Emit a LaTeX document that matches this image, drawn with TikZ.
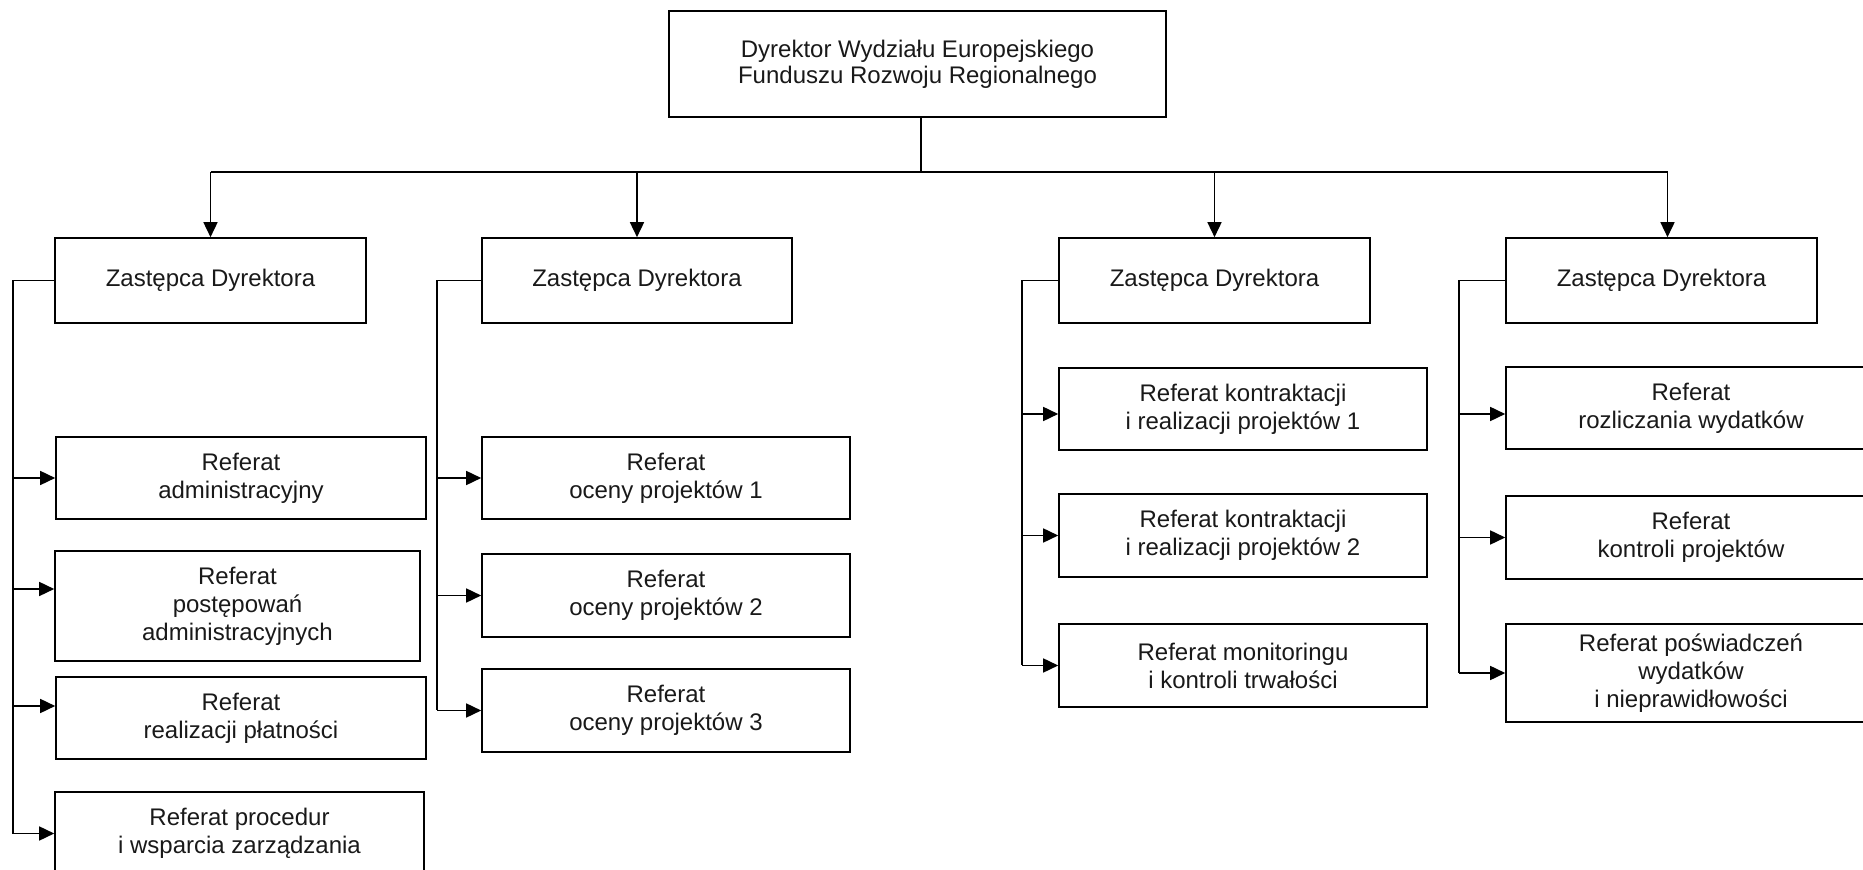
\documentclass[tikz,border=0pt]{standalone}
\usepackage{fontspec}
\setmainfont{Liberation Sans}
\usetikzlibrary{arrows.meta}
\tikzset{
  box/.style={draw=black, line width=0.8pt, inner sep=0pt, align=center,
    font=\fontsize{12}{14}\selectfont, text=black!90},
  conn/.style={draw=black, line width=0.8pt},
  arr/.style={conn, -{Triangle[length=7.5pt,width=7pt]}}
}
\newcommand\mybox[6]{%
  \pgfmathsetmacro\cx{(#2+#4)/2}\pgfmathsetmacro\cy{(#3+#5)/2}%
  \pgfmathsetmacro\ww{(#4-#2)/2}\pgfmathsetmacro\hh{(#5-#3)/2}%
  \node[box,minimum width=\ww pt,minimum height=\hh pt] (#1) at (\cx,\cy) {#6};}
\begin{document}
\begin{tikzpicture}[x=0.5pt,y=-0.5pt]
\useasboundingbox (0,0) rectangle (1863,870);
\clip (0,0) rectangle (1863,870);
% top
\mybox{top}{669}{11}{1166}{117}{Dyrektor Wydziału Europejskiego\\[-1pt]Funduszu Rozwoju Regionalnego}
% deputies
\mybox{z1}{55}{238}{366}{323}{Zastępca Dyrektora}
\mybox{z2}{482}{238}{792}{323}{Zastępca Dyrektora}
\mybox{z3}{1059}{238}{1370}{323}{Zastępca Dyrektora}
\mybox{z4}{1506}{238}{1817}{323}{Zastępca Dyrektora}
% column 1
\mybox{adm}{56}{437}{426}{519}{Referat\\administracyjny}
\mybox{pos}{55}{551}{420}{661}{Referat\\postępowań\\administracyjnych}
\mybox{pla}{56}{677}{426}{759}{Referat\\realizacji płatności}
\mybox{pro}{55}{792}{424}{875}{Referat procedur\\i wsparcia zarządzania}
% column 2
\mybox{oc1}{482}{437}{850}{519}{Referat\\oceny projektów 1}
\mybox{oc2}{482}{554}{850}{637}{Referat\\oceny projektów 2}
\mybox{oc3}{482}{669}{850}{752}{Referat\\oceny projektów 3}
% column 3
\mybox{k1}{1059}{368}{1427}{450}{Referat kontraktacji\\i realizacji projektów 1}
\mybox{k2}{1059}{494}{1427}{577}{Referat kontraktacji\\i realizacji projektów 2}
\mybox{mon}{1059}{624}{1427}{707}{Referat monitoringu\\i kontroli trwałości}
% column 4
\mybox{roz}{1506}{367}{1876}{449}{Referat\\rozliczania wydatków}
\mybox{kon}{1506}{496}{1876}{579}{Referat\\kontroli projektów}
\mybox{pow}{1506}{624}{1876}{722}{Referat poświadczeń\\wydatków\\i nieprawidłowości}
% bus
\coordinate (bus) at (0,172);
\coordinate (topa) at ([xshift=1.75pt]top.south);
\coordinate (z4a) at ([xshift=3pt]z4.north);
\draw[conn] (topa) -- (topa |- bus);
\draw[conn] (z1.north |- bus) -- (z4a |- bus);
\draw[arr] (z1.north |- bus) -- (z1.north);
\draw[arr] (z2.north |- bus) -- (z2.north);
\draw[arr] (z3.north |- bus) -- (z3.north);
\draw[arr] (z4a |- bus) -- (z4a);
% trunk coordinates
\coordinate (t1) at (13,0);
\coordinate (t2) at (437,0);
\coordinate (t3) at (1022,0);
\coordinate (t4) at (1459,0);
\coordinate (posin) at ([yshift=8.5pt]pos.west);
\coordinate (plain) at ([yshift=6pt]pla.west);
\coordinate (k1in) at ([yshift=-2.5pt]k1.west);
\coordinate (rozin) at ([yshift=-3pt]roz.west);
% column 1
\draw[conn] (z1.west) -- (z1.west -| t1) -- (t1 |- pro.west);
\draw[arr] (t1 |- adm.west) -- (adm.west);
\draw[arr] (t1 |- posin) -- (posin);
\draw[arr] (t1 |- plain) -- (plain);
\draw[arr] (t1 |- pro.west) -- (pro.west);
% column 2
\draw[conn] (z2.west) -- (z2.west -| t2) -- (t2 |- oc3.west);
\draw[arr] (t2 |- oc1.west) -- (oc1.west);
\draw[arr] (t2 |- oc2.west) -- (oc2.west);
\draw[arr] (t2 |- oc3.west) -- (oc3.west);
% column 3
\draw[conn] (z3.west) -- (z3.west -| t3) -- (t3 |- mon.west);
\draw[arr] (t3 |- k1in) -- (k1in);
\draw[arr] (t3 |- k2.west) -- (k2.west);
\draw[arr] (t3 |- mon.west) -- (mon.west);
% column 4
\draw[conn] (z4.west) -- (z4.west -| t4) -- (t4 |- pow.west);
\draw[arr] (t4 |- rozin) -- (rozin);
\draw[arr] (t4 |- kon.west) -- (kon.west);
\draw[arr] (t4 |- pow.west) -- (pow.west);
\end{tikzpicture}
\end{document}
